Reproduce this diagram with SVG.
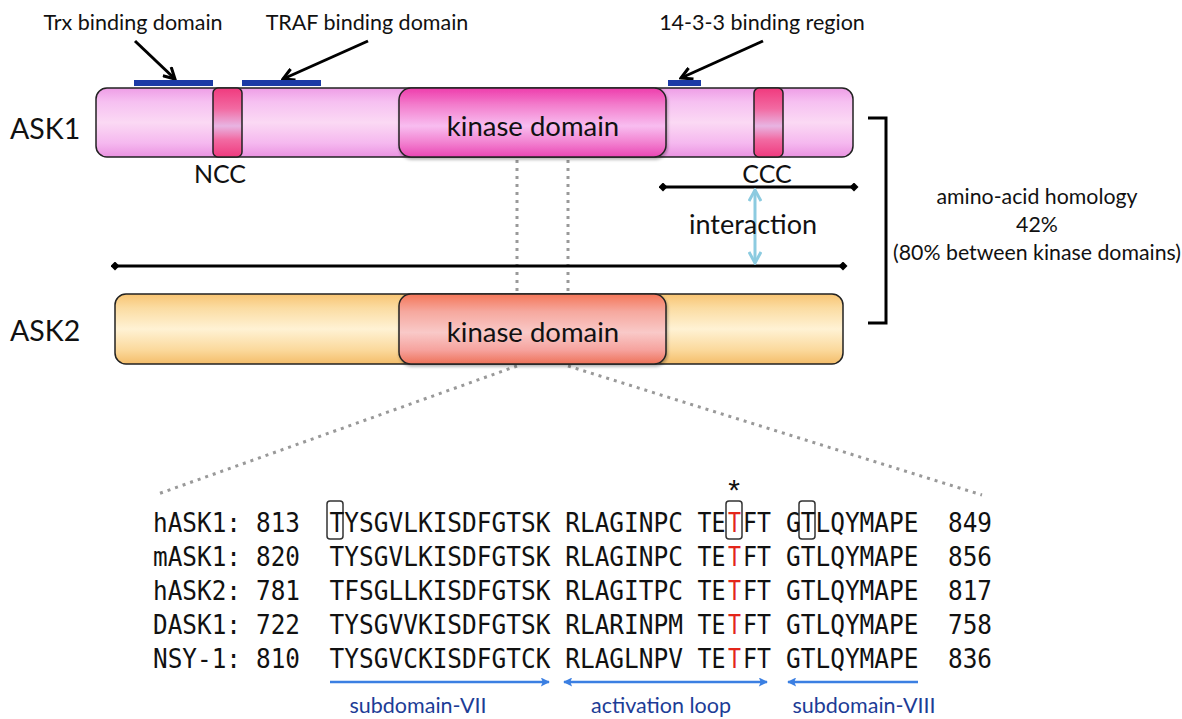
<svg xmlns="http://www.w3.org/2000/svg" width="1182" height="719" viewBox="0 0 1182 719">
<style>
.lbl{font-family:Lato,"Liberation Sans",sans-serif;fill:#111}
.seq{font-family:"DejaVu Sans Mono","Liberation Mono",monospace;font-size:26.5px;fill:#111}
.red{fill:#e3251a}
.blue{font-family:Lato,"Liberation Sans",sans-serif;font-size:21.5px;fill:#1c3c96}
.bar{stroke:#222;stroke-width:1.5}
.bind{fill:#1b3aa6}
.dots{stroke:#999;stroke-width:3;stroke-dasharray:3 5;fill:none}
.blk{stroke:#000;stroke-width:3;fill:none}
.sbx{fill:none;stroke:#333;stroke-width:1.5}
.barr{stroke:#3b7fe2;stroke-width:2.5;fill:none}
</style>
<defs>
<linearGradient id="gAsk1" x1="0" y1="0" x2="0" y2="1">
<stop offset="0" stop-color="#ee9de6"/><stop offset="0.2" stop-color="#f6c0f1"/><stop offset="0.5" stop-color="#fbd9f4"/><stop offset="0.8" stop-color="#f5b8ef"/><stop offset="1" stop-color="#ea93e1"/>
</linearGradient>
<linearGradient id="gKin1" x1="0" y1="0" x2="0" y2="1">
<stop offset="0" stop-color="#ee3dac"/><stop offset="0.25" stop-color="#f37ecd"/><stop offset="0.55" stop-color="#f8bdf0"/><stop offset="0.8" stop-color="#f27fcf"/><stop offset="1" stop-color="#e946b4"/>
</linearGradient>
<linearGradient id="gCC" x1="0" y1="0" x2="0" y2="1">
<stop offset="0" stop-color="#f03a7e"/><stop offset="0.3" stop-color="#f26aa2"/><stop offset="0.55" stop-color="#e8b4e2"/><stop offset="0.75" stop-color="#f26aa2"/><stop offset="1" stop-color="#ef3a7e"/>
</linearGradient>
<linearGradient id="gAsk2" x1="0" y1="0" x2="0" y2="1">
<stop offset="0" stop-color="#f8c472"/><stop offset="0.2" stop-color="#fbdca2"/><stop offset="0.5" stop-color="#fff2d4"/><stop offset="0.8" stop-color="#fbd99c"/><stop offset="1" stop-color="#f4bd6a"/>
</linearGradient>
<linearGradient id="gKin2" x1="0" y1="0" x2="0" y2="1">
<stop offset="0" stop-color="#f47658"/><stop offset="0.25" stop-color="#f6a89e"/><stop offset="0.55" stop-color="#f9c9c8"/><stop offset="0.8" stop-color="#f6a39e"/><stop offset="1" stop-color="#ee7258"/>
</linearGradient>
<marker id="mBlk" viewBox="0 0 14 14" refX="12" refY="7" markerWidth="14" markerHeight="14" markerUnits="userSpaceOnUse" orient="auto">
<path d="M1,1 L12,7 L1,13" fill="none" stroke="#000" stroke-width="3"/>
</marker>
<marker id="mDia" viewBox="0 0 10 10" refX="5" refY="5" markerWidth="9" markerHeight="9" markerUnits="userSpaceOnUse" orient="auto">
<path d="M0,5 L5,0 L10,5 L5,10 Z" fill="#000"/>
</marker>
<marker id="mLb" viewBox="0 0 14 14" refX="12" refY="7" markerWidth="14" markerHeight="14" markerUnits="userSpaceOnUse" orient="auto-start-reverse">
<path d="M1,1 L12,7 L1,13" fill="none" stroke="#8ccbe0" stroke-width="3"/>
</marker>
<marker id="mBl" viewBox="0 0 10 10" refX="9" refY="5" markerWidth="11" markerHeight="9" markerUnits="userSpaceOnUse" orient="auto-start-reverse">
<path d="M0,0 L10,5 L0,10 L2,5 Z" fill="#3b7fe2"/>
</marker>
<filter id="sh" x="-5%" y="-10%" width="110%" height="130%">
<feDropShadow dx="1" dy="2" stdDeviation="1.5" flood-color="#000" flood-opacity="0.3"/>
</filter>
</defs>
<rect width="1182" height="719" fill="#fff"/>

<g id="connectors">
<path class="dots" d="M517,160 V294"/>
<path class="dots" d="M568,160 V294"/>
<path class="dots" d="M517,366 L158,494"/>
<path class="dots" d="M568,366 L982,495"/>
<line class="blk" x1="135" y1="41" x2="175" y2="79" marker-end="url(#mBlk)"/>
<line class="blk" x1="368" y1="41" x2="283" y2="79" marker-end="url(#mBlk)"/>
<line class="blk" x1="763" y1="41" x2="681" y2="78" marker-end="url(#mBlk)"/>
<line x1="663" y1="187" x2="854" y2="187" stroke="#000" stroke-width="3" marker-start="url(#mDia)" marker-end="url(#mDia)"/>
<line x1="115" y1="266" x2="843" y2="266" stroke="#000" stroke-width="3" marker-start="url(#mDia)" marker-end="url(#mDia)"/>
<line x1="755" y1="190" x2="755" y2="263" stroke="#8ccbe0" stroke-width="3" marker-start="url(#mLb)" marker-end="url(#mLb)"/>
<path d="M868,118 H886 V323 H868" fill="none" stroke="#000" stroke-width="3"/>
</g>

<g id="labels-top">
<text class="lbl" x="133" y="30" font-size="21.5" text-anchor="middle">Trx binding domain</text>
<text class="lbl" x="367" y="30" font-size="21.5" text-anchor="middle">TRAF binding domain</text>
<text class="lbl" x="762" y="30" font-size="21.5" text-anchor="middle">14-3-3 binding region</text>
</g>

<g id="ask1">
<rect class="bind" x="134" y="80" width="79" height="6"/>
<rect class="bind" x="242" y="80" width="79" height="6"/>
<rect class="bind" x="668" y="80" width="33" height="6"/>
<rect class="bar" x="96" y="88" width="757" height="69" rx="11" fill="url(#gAsk1)"/>
<rect class="bar" x="213" y="88" width="29" height="69" rx="5" fill="url(#gCC)"/>
<rect class="bar" x="754" y="88" width="29" height="69" rx="5" fill="url(#gCC)"/>
<rect class="bar" x="399" y="88" width="267" height="69" rx="12" fill="url(#gKin1)" filter="url(#sh)"/>
<text class="lbl" x="533" y="136" font-size="27.5" text-anchor="middle">kinase domain</text>
<text class="lbl" x="10" y="139" font-size="28.5">ASK1</text>
<text class="lbl" x="220" y="183" font-size="25" text-anchor="middle">NCC</text>
<text class="lbl" x="767" y="183" font-size="25" text-anchor="middle">CCC</text>
</g>

<g id="interaction">
<text class="lbl" x="753" y="234" font-size="27" text-anchor="middle">interaction</text>
</g>

<g id="homology">
<text class="lbl" x="1037" y="204" font-size="21.3" text-anchor="middle">amino-acid homology</text>
<text class="lbl" x="1037" y="232" font-size="21.3" text-anchor="middle">42%</text>
<text class="lbl" x="1037" y="260" font-size="21.3" text-anchor="middle">(80% between kinase domains)</text>
</g>

<g id="ask2">
<rect class="bar" x="115" y="294" width="728" height="70" rx="11" fill="url(#gAsk2)"/>
<rect class="bar" x="399" y="294" width="267" height="70" rx="12" fill="url(#gKin2)" filter="url(#sh)"/>
<text class="lbl" x="533" y="342" font-size="27.5" text-anchor="middle">kinase domain</text>
<text class="lbl" x="10" y="341" font-size="28.5">ASK2</text>
</g>

<g id="alignment">
<text x="734" y="500" font-family="Liberation Sans, sans-serif" font-size="30" text-anchor="middle" fill="#111">*</text>
<rect class="sbx" x="327" y="501" width="16" height="38" rx="3"/>
<rect class="sbx" x="726" y="501" width="16" height="38" rx="3"/>
<rect class="sbx" x="799" y="501" width="16" height="38" rx="3"/>

<text class="seq" x="153" y="532" textLength="88" lengthAdjust="spacingAndGlyphs">hASK1:</text>
<text class="seq" x="256" y="532" textLength="44" lengthAdjust="spacingAndGlyphs">813</text>
<text class="seq" x="329.6" y="532" textLength="220.8" lengthAdjust="spacingAndGlyphs">TYSGVLKISDFGTSK</text>
<text class="seq" x="565.2" y="532" textLength="117.8" lengthAdjust="spacingAndGlyphs">RLAGINPC</text>
<text class="seq" x="697.6" y="532" textLength="28" lengthAdjust="spacingAndGlyphs">TE</text>
<text class="seq red" x="728" y="532" textLength="13" lengthAdjust="spacingAndGlyphs">T</text>
<text class="seq" x="743" y="532" textLength="28" lengthAdjust="spacingAndGlyphs">FT</text>
<text class="seq" x="786" y="532" textLength="132.5" lengthAdjust="spacingAndGlyphs">GTLQYMAPE</text>
<text class="seq" x="948" y="532" textLength="44" lengthAdjust="spacingAndGlyphs">849</text>

<text class="seq" x="153" y="566" textLength="88" lengthAdjust="spacingAndGlyphs">mASK1:</text>
<text class="seq" x="256" y="566" textLength="44" lengthAdjust="spacingAndGlyphs">820</text>
<text class="seq" x="329.6" y="566" textLength="220.8" lengthAdjust="spacingAndGlyphs">TYSGVLKISDFGTSK</text>
<text class="seq" x="565.2" y="566" textLength="117.8" lengthAdjust="spacingAndGlyphs">RLAGINPC</text>
<text class="seq" x="697.6" y="566" textLength="28" lengthAdjust="spacingAndGlyphs">TE</text>
<text class="seq red" x="728" y="566" textLength="13" lengthAdjust="spacingAndGlyphs">T</text>
<text class="seq" x="743" y="566" textLength="28" lengthAdjust="spacingAndGlyphs">FT</text>
<text class="seq" x="786" y="566" textLength="132.5" lengthAdjust="spacingAndGlyphs">GTLQYMAPE</text>
<text class="seq" x="948" y="566" textLength="44" lengthAdjust="spacingAndGlyphs">856</text>

<text class="seq" x="153" y="600" textLength="88" lengthAdjust="spacingAndGlyphs">hASK2:</text>
<text class="seq" x="256" y="600" textLength="44" lengthAdjust="spacingAndGlyphs">781</text>
<text class="seq" x="329.6" y="600" textLength="220.8" lengthAdjust="spacingAndGlyphs">TFSGLLKISDFGTSK</text>
<text class="seq" x="565.2" y="600" textLength="117.8" lengthAdjust="spacingAndGlyphs">RLAGITPC</text>
<text class="seq" x="697.6" y="600" textLength="28" lengthAdjust="spacingAndGlyphs">TE</text>
<text class="seq red" x="728" y="600" textLength="13" lengthAdjust="spacingAndGlyphs">T</text>
<text class="seq" x="743" y="600" textLength="28" lengthAdjust="spacingAndGlyphs">FT</text>
<text class="seq" x="786" y="600" textLength="132.5" lengthAdjust="spacingAndGlyphs">GTLQYMAPE</text>
<text class="seq" x="948" y="600" textLength="44" lengthAdjust="spacingAndGlyphs">817</text>

<text class="seq" x="153" y="634" textLength="88" lengthAdjust="spacingAndGlyphs">DASK1:</text>
<text class="seq" x="256" y="634" textLength="44" lengthAdjust="spacingAndGlyphs">722</text>
<text class="seq" x="329.6" y="634" textLength="220.8" lengthAdjust="spacingAndGlyphs">TYSGVVKISDFGTSK</text>
<text class="seq" x="565.2" y="634" textLength="117.8" lengthAdjust="spacingAndGlyphs">RLARINPM</text>
<text class="seq" x="697.6" y="634" textLength="28" lengthAdjust="spacingAndGlyphs">TE</text>
<text class="seq red" x="728" y="634" textLength="13" lengthAdjust="spacingAndGlyphs">T</text>
<text class="seq" x="743" y="634" textLength="28" lengthAdjust="spacingAndGlyphs">FT</text>
<text class="seq" x="786" y="634" textLength="132.5" lengthAdjust="spacingAndGlyphs">GTLQYMAPE</text>
<text class="seq" x="948" y="634" textLength="44" lengthAdjust="spacingAndGlyphs">758</text>

<text class="seq" x="153" y="668" textLength="88" lengthAdjust="spacingAndGlyphs">NSY-1:</text>
<text class="seq" x="256" y="668" textLength="44" lengthAdjust="spacingAndGlyphs">810</text>
<text class="seq" x="329.6" y="668" textLength="220.8" lengthAdjust="spacingAndGlyphs">TYSGVCKISDFGTCK</text>
<text class="seq" x="565.2" y="668" textLength="117.8" lengthAdjust="spacingAndGlyphs">RLAGLNPV</text>
<text class="seq" x="697.6" y="668" textLength="28" lengthAdjust="spacingAndGlyphs">TE</text>
<text class="seq red" x="728" y="668" textLength="13" lengthAdjust="spacingAndGlyphs">T</text>
<text class="seq" x="743" y="668" textLength="28" lengthAdjust="spacingAndGlyphs">FT</text>
<text class="seq" x="786" y="668" textLength="132.5" lengthAdjust="spacingAndGlyphs">GTLQYMAPE</text>
<text class="seq" x="948" y="668" textLength="44" lengthAdjust="spacingAndGlyphs">836</text>
</g>

<g id="regions">
<line class="barr" x1="330" y1="682" x2="549" y2="682" marker-end="url(#mBl)"/>
<line class="barr" x1="564" y1="682" x2="767" y2="682" marker-start="url(#mBl)" marker-end="url(#mBl)"/>
<line class="barr" x1="918" y1="682" x2="788" y2="682" marker-end="url(#mBl)"/>
<text class="blue" x="418" y="713" text-anchor="middle">subdomain-VII</text>
<text class="blue" x="661" y="713" text-anchor="middle">activation loop</text>
<text class="blue" x="864" y="713" text-anchor="middle">subdomain-VIII</text>
</g>
</svg>
